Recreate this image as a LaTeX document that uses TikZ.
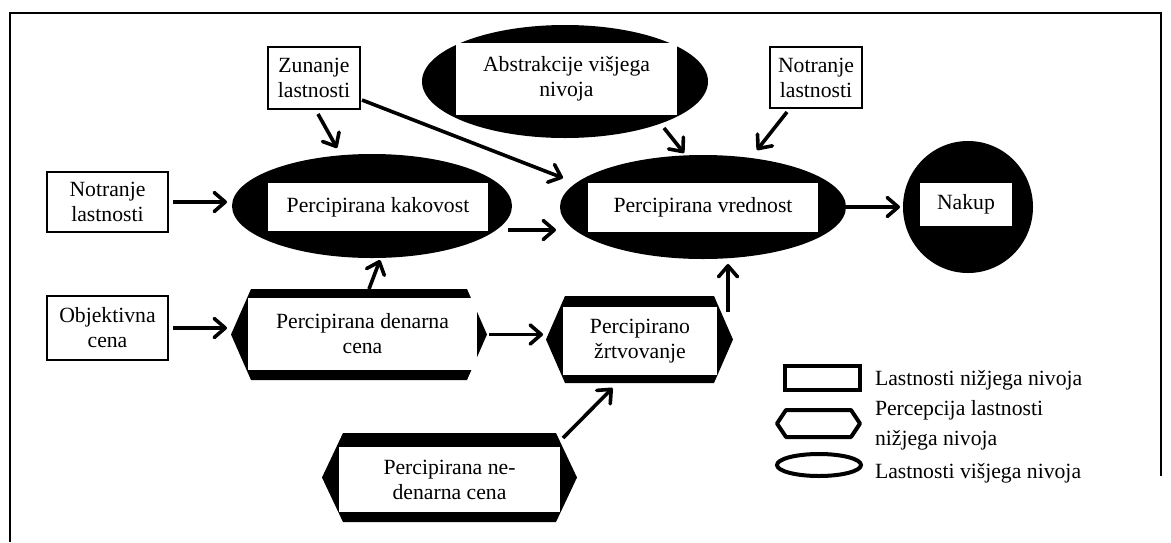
\documentclass[tikz,border=0pt]{standalone}
\usepackage{fontspec}
\setmainfont{Liberation Serif}
\usetikzlibrary{arrows.meta,calc,shapes.geometric}

\tikzset{
  lbl/.style={font=\fontsize{21.7}{25}\selectfont, align=center, inner sep=0pt, outer sep=0pt},
  inbox/.style={lbl, fill=white, minimum width=#1},
  plainbox/.style={lbl, draw, line width=1.8pt, minimum width=#1},
  blackoval/.style={ellipse, fill=black, inner sep=0pt, outer sep=0pt},
  hexframe/.style={rectangle, inner sep=0pt, outer sep=0pt},
  arr/.style={line width=3.6pt, -{Straight Barb[round,length=11pt,width=19pt]}},
}

% black hexagon around a frame node: name, inset of the pointed ends, style
\newcommand\hexfill[3]{%
  \path[#3] (#1.west) -- ($(#1.north west)+(#2,0)$) -- ($(#1.north east)+(-#2,0)$)
    -- (#1.east) -- ($(#1.south east)+(-#2,0)$) -- ($(#1.south west)+(#2,0)$) -- cycle;}

\begin{document}
\begin{tikzpicture}[x=1pt,y=-1pt]
\useasboundingbox (0,0) rectangle (1171,542);

% page frame
\draw[line width=2pt] (1161,476) -- (1161,13) -- (10,13) -- (10,542);

% plain property boxes
\node[plainbox=92, minimum height=62] (zun) at (314,78) {Zunanje\\lastnosti};
\node[plainbox=92, minimum height=61] (nl2) at (816,77.5) {Notranje\\lastnosti};
\node[plainbox=121, minimum height=60] (nl1) at (107.5,202) {Notranje\\lastnosti};
\node[plainbox=121, minimum height=64] (oc) at (107.5,328) {Objektivna\\cena};

% higher-level ovals
\node[blackoval, minimum width=280, minimum height=104] (pk) at (372,206) {};
\node[inbox=220, minimum height=48] (pkt) at (378,207) {Percipirana kakovost};

\node[blackoval, minimum width=286, minimum height=104] (pv) at (703,207) {};
\node[inbox=230, minimum height=49] (pvt) at (703,207.5) {Percipirana vrednost};

\node[blackoval, minimum width=286, minimum height=113] (abs) at (565,81.5) {};
\node[inbox=221, minimum height=72] (abst) at (566.5,79) {Abstrakcije višjega\\nivoja};

\node[blackoval, minimum width=130, minimum height=132] (nak) at (968,207) {};
\node[inbox=92, minimum height=43] (nakt) at (966,204.5) {Nakup};

% perceived lower-level hexagons
\node[hexframe, minimum width=256, minimum height=91] (pdc) at (359,334.5) {};
\hexfill{pdc}{20}{fill=black}
\node[inbox=229, minimum height=72] (pdct) at (362.5,334) {Percipirana denarna\\cena};

\node[hexframe, minimum width=187, minimum height=87] (pz) at (639.5,339.5) {};
\hexfill{pz}{19}{fill=black}
\node[inbox=154, minimum height=68] (pzt) at (640,341) {Percipirano\\žrtvovanje};

\node[hexframe, minimum width=255, minimum height=89] (pnc) at (449.5,477.5) {};
\hexfill{pnc}{21}{fill=black}
\node[inbox=221, minimum height=65] (pnct) at (449.5,479.5) {Percipirana ne-\\denarna cena};

% connectors
\draw[arr, shorten <=5pt, shorten >=5pt] (nl1.east) -- (nl1.east -| pk.west);
\draw[arr, shorten <=5pt, shorten >=4pt] (oc.east) -- (oc.east -| pdc.west);
\draw[arr] ($(zun.south)+(4,5)$) -- ($(pk.north)+(-35,-6)$);
\draw[arr] ($(zun.south east)+(2,-9)$) -- ($(pv.west)+(3,-29)$);
\draw[arr] ($(abs.south)+(99,-10)$) -- ($(pv.north)+(-19,-2)$);
\draw[arr] ($(nl2.south)+(-29,4)$) -- ($(pv.north)+(54,-5)$);
\draw[arr] ($(pk.east)+(-4,24)$) -- ($(pv.west)+(-4,23)$);
\draw[arr] ($(pdc.north)+(10,0)$) -- ($(pk.south)+(8,2)$);
\draw[arr, shorten <=2pt, shorten >=3pt] (pdc.east) -- (pdc.east -| pz.west);
\draw[arr] ($(pz.north east)+(-5,16)$) -- ($(pv.south)+(25,5)$);
\draw[arr] ($(pnc.north east)+(-14,5)$) -- ($(pz.south)+(-27,5)$);
\draw[arr, shorten >=3pt] (pv.east) -- (pv.east -| nak.west);

% legend
\node[rectangle, draw, line width=4pt, minimum width=75, minimum height=24, inner sep=0pt] (lrect) at (822.5,378) {};
\node[hexframe, minimum width=83, minimum height=27] (lhex) at (818.5,423.5) {};
\hexfill{lhex}{9}{draw, line width=4pt, line join=round, fill=white}
\node[ellipse, draw, line width=4pt, minimum width=84, minimum height=22, inner sep=0pt] (lell) at (819,465) {};

\node[lbl, anchor=base west] (lt1) at (875,385) {Lastnosti nižjega nivoja};
\node[lbl, anchor=base west] (lt2) at (875,415) {Percepcija lastnosti};
\node[lbl, anchor=base west] (lt3) at (875,445) {nižjega nivoja};
\node[lbl, anchor=base west] (lt4) at (875,478) {Lastnosti višjega nivoja};
\end{tikzpicture}
\end{document}
